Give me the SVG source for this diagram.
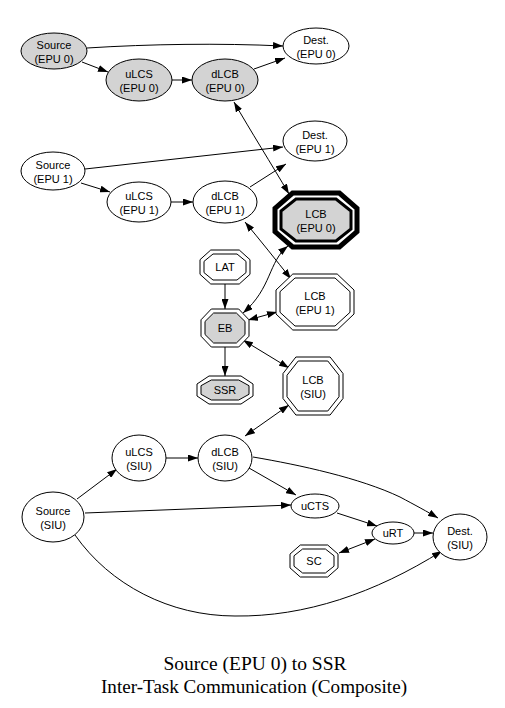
<svg xmlns="http://www.w3.org/2000/svg" width="505" height="708" viewBox="0 0 505 708">
<defs>
<marker id="ah" markerUnits="userSpaceOnUse" markerWidth="10" markerHeight="7" refX="10" refY="3.5" orient="auto-start-reverse" viewBox="0 0 10 7">
<path d="M0,0 L10,3.5 L0,7 z" fill="#000"/>
</marker>
</defs>
<style>
.n{stroke:#000;stroke-width:1;fill:#fff}
.g{fill:#d3d3d3}
.o{fill:none;stroke:#000;stroke-width:1}
.t{font-family:"Liberation Sans",Arial,sans-serif;font-size:11px;text-anchor:middle;fill:#000}
.e{fill:none;stroke:#000;stroke-width:1;marker-end:url(#ah)}
.b{marker-start:url(#ah)}
.title{font-family:"Liberation Serif","Times New Roman",serif;font-size:18px;text-anchor:middle;fill:#000}
</style>
<rect width="505" height="708" fill="#fff"/>
<g id="edges">
<path class="e" d="M87,48 C150,44 220,43 283,46"/>
<path class="e" d="M82,62 L108,72"/>
<path class="e" d="M172,80 L192,80"/>
<path class="e" d="M254,69 L285,58"/>
<path class="e b" d="M234,102 C250,130 272,165 289,194"/>
<path class="e" d="M85,169 L283,147"/>
<path class="e" d="M81,183 L110,192"/>
<path class="e" d="M171,202 L193,202"/>
<path class="e" d="M250,187 L286,164"/>
<path class="e b" d="M245,222 C260,240 276,260 291,279"/>
<path class="e b" d="M288,246 C268,262 272,288 243,313"/>
<path class="e" d="M225,284 L225,309"/>
<path class="e" d="M225,347 L225,376"/>
<path class="e b" d="M248,320 L277,312"/>
<path class="e b" d="M243,340 L289,368"/>
<path class="e b" d="M289,405 L245,436"/>
<path class="e" d="M77,499 L117,469"/>
<path class="e" d="M166,458 L198,458"/>
<path class="e" d="M249,468 L296,495"/>
<path class="e" d="M253,457 C300,465 360,478 400,497 C415,505 428,512 438,518"/>
<path class="e" d="M85,513 L291,505"/>
<path class="e" d="M337,513 L377,526"/>
<path class="e" d="M414,533 L433,533"/>
<path class="e b" d="M339,553 L375,539"/>
<path class="e" d="M75,535 C110,585 170,616 235,616 C305,617 375,593 442,551"/>
</g>
<g id="source_epu0"><ellipse class="n g" cx="54" cy="51" rx="33" ry="18"/><text class="t" x="54" y="49">Source</text><text class="t" x="54" y="63">(EPU 0)</text></g>
<g id="ulcs_epu0"><ellipse class="n g" cx="139" cy="80" rx="33" ry="21"/><text class="t" x="139" y="78">uLCS</text><text class="t" x="139" y="92">(EPU 0)</text></g>
<g id="dlcb_epu0"><ellipse class="n g" cx="225" cy="80" rx="33" ry="21"/><text class="t" x="225" y="78">dLCB</text><text class="t" x="225" y="92">(EPU 0)</text></g>
<g id="dest_epu0"><ellipse class="n" cx="316" cy="46" rx="33" ry="18"/><text class="t" x="316" y="44">Dest.</text><text class="t" x="316" y="58">(EPU 0)</text></g>
<g id="source_epu1"><ellipse class="n" cx="53" cy="171" rx="32" ry="19"/><text class="t" x="53" y="169">Source</text><text class="t" x="53" y="183">(EPU 1)</text></g>
<g id="ulcs_epu1"><ellipse class="n" cx="139" cy="202" rx="32" ry="20"/><text class="t" x="139" y="200">uLCS</text><text class="t" x="139" y="214">(EPU 1)</text></g>
<g id="dlcb_epu1"><ellipse class="n" cx="225" cy="202" rx="32" ry="21"/><text class="t" x="225" y="200">dLCB</text><text class="t" x="225" y="214">(EPU 1)</text></g>
<g id="dest_epu1"><ellipse class="n" cx="315" cy="141" rx="32" ry="20"/><text class="t" x="315" y="139">Dest.</text><text class="t" x="315" y="153">(EPU 1)</text></g>
<g id="lcb_epu0">
<polygon points="292.6,193 339.4,193 357,208.4 357,231.6 339.4,247 292.6,247 275,231.6 275,208.4" fill="#fff" stroke="#000" stroke-width="5"/>
<polygon points="296,199 336,199 351,211 351,229 336,241 296,241 281,229 281,211" fill="#d3d3d3" stroke="#000" stroke-width="3"/>
<text class="t" x="316" y="218">LCB</text><text class="t" x="316" y="232">(EPU 0)</text></g>
<g id="lcb_epu1">
<polygon class="n" points="292.8,274 337.2,274 354,290 354,314 337.2,330 292.8,330 276,314 276,290"/>
<polygon class="o" points="295,278 335,278 350,291.7 350,312.3 335,326 295,326 280,312.3 280,291.7"/>
<text class="t" x="315" y="300">LCB</text><text class="t" x="315" y="314">(EPU 1)</text></g>
<g id="lat">
<polygon class="n" points="210.75,250 239.25,250 250,259.7 250,274.3 239.25,284 210.75,284 200,274.3 200,259.7"/>
<polygon class="o" points="213,254 237,254 246,261.4 246,272.6 237,280 213,280 204,272.6 204,261.4"/>
<text class="t" x="225" y="271">LAT</text></g>
<g id="eb">
<polygon class="n" points="211.3,309 238.7,309 249,319.8 249,336.2 238.7,347 211.3,347 201,336.2 201,319.8"/>
<polygon class="n g" points="213.6,313 236.4,313 245,321.5 245,334.5 236.4,343 213.6,343 205,334.5 205,321.5"/>
<text class="t" x="225" y="332">EB</text></g>
<g id="ssr">
<polygon class="n" points="209,376 241,376 253,384 253,396 241,404 209,404 197,396 197,384"/>
<polygon class="n g" points="211.3,380 238.7,380 249,385.7 249,394.3 238.7,400 211.3,400 201,394.3 201,385.7"/>
<text class="t" x="225" y="394">SSR</text></g>
<g id="lcb_siu">
<polygon class="n" points="295.9,357 330.1,357 343,373.5 343,398.5 330.1,415 295.9,415 283,398.5 283,373.5"/>
<polygon class="o" points="298.2,361 327.8,361 339,375.25 339,396.75 327.8,411 298.2,411 287,396.75 287,375.25"/>
<text class="t" x="313" y="384">LCB</text><text class="t" x="313" y="398">(SIU)</text></g>
<g id="ulcs_siu"><ellipse class="n" cx="139" cy="458" rx="27" ry="23"/><text class="t" x="139" y="456">uLCS</text><text class="t" x="139" y="470">(SIU)</text></g>
<g id="dlcb_siu"><ellipse class="n" cx="225" cy="458" rx="27" ry="23"/><text class="t" x="225" y="456">dLCB</text><text class="t" x="225" y="470">(SIU)</text></g>
<g id="source_siu"><ellipse class="n" cx="53" cy="517" rx="31" ry="25"/><text class="t" x="53" y="515">Source</text><text class="t" x="53" y="529">(SIU)</text></g>
<g id="ucts"><ellipse class="n" cx="315" cy="506" rx="24" ry="12"/><text class="t" x="315" y="510">uCTS</text></g>
<g id="urt"><ellipse class="n" cx="393" cy="533" rx="21" ry="11"/><text class="t" x="393" y="537">uRT</text></g>
<g id="dest_siu"><ellipse class="n" cx="460" cy="537" rx="27" ry="23"/><text class="t" x="460" y="535">Dest.</text><text class="t" x="460" y="549">(SIU)</text></g>
<g id="sc">
<polygon class="n" points="300.3,545 327.7,545 338,554.1 338,567.9 327.7,577 300.3,577 290,567.9 290,554.1"/>
<polygon class="o" points="302.6,549 325.4,549 334,555.8 334,566.2 325.4,573 302.6,573 294,566.2 294,555.8"/>
<text class="t" x="314" y="565">SC</text></g>
<g id="title">
<text class="title" x="255" y="670" textLength="183" lengthAdjust="spacingAndGlyphs">Source (EPU 0) to SSR</text>
<text class="title" x="254" y="693" textLength="306" lengthAdjust="spacingAndGlyphs">Inter-Task Communication (Composite)</text>
</g>
</svg>
